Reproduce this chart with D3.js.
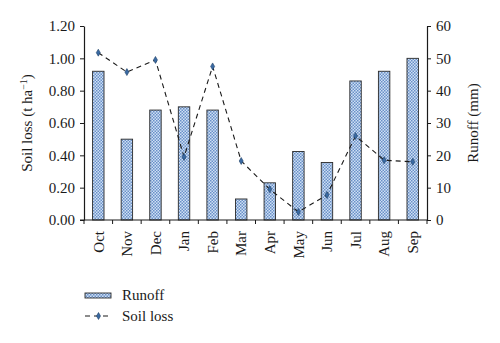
<!DOCTYPE html>
<html>
<head>
<meta charset="utf-8">
<script src="https://cdn.jsdelivr.net/npm/d3@7"></script>
<style>
  html, body { margin: 0; padding: 0; background: #fff; }
  svg { display: block; }
  text { font-family: "Liberation Serif", "Times New Roman", serif; fill: #1a1a1a; }
</style>
</head>
<body>
<svg id="chart" width="500" height="343"></svg>
<script>
const months = ["Oct","Nov","Dec","Jan","Feb","Mar","Apr","May","Jun","Jul","Aug","Sep"];
const runoff = [46, 25, 34, 35, 34, 6.5, 11.5, 21.2, 17.8, 43, 46, 50];
const soilLoss = [1.035, 0.915, 0.99, 0.39, 0.95, 0.365, 0.19, 0.05, 0.155, 0.52, 0.37, 0.36];
const leftTicks = [0, 0.2, 0.4, 0.6, 0.8, 1.0, 1.2];
const rightTicks = [0, 10, 20, 30, 40, 50, 60];

const FS = 15;
const svg = d3.select("#chart");
const m = { left: 84, right: 427, top: 26, bottom: 220 };

const defs = svg.append("defs");
const pat = defs.append("pattern")
  .attr("id", "dots").attr("patternUnits", "userSpaceOnUse")
  .attr("width", 3).attr("height", 3);
pat.append("rect").attr("width", 3).attr("height", 3).attr("fill", "#cfe0f5");
pat.append("rect").attr("x", 0).attr("y", 0).attr("width", 1.5).attr("height", 1.5).attr("fill", "#6a90c8");
pat.append("rect").attr("x", 1.5).attr("y", 1.5).attr("width", 1.5).attr("height", 1.5).attr("fill", "#6a90c8");

const x = d3.scaleBand().domain(months).range([m.left, m.right]).paddingInner(0).paddingOuter(0);
const yL = d3.scaleLinear().domain([0, 1.2]).range([m.bottom, m.top]);
const yR = d3.scaleLinear().domain([0, 60]).range([m.bottom, m.top]);

// bars
const bw = x.bandwidth() * 0.4;
svg.append("g").selectAll("rect").data(months).join("rect")
  .attr("x", d => x(d) + x.bandwidth() / 2 - bw / 2)
  .attr("y", (d, i) => yR(runoff[i]))
  .attr("width", bw)
  .attr("height", (d, i) => yR(0) - yR(runoff[i]))
  .attr("fill", "url(#dots)")
  .attr("stroke", "#2a2a2a").attr("stroke-width", 0.9);

// axes
const axL = svg.append("g").attr("transform", `translate(${m.left},0)`)
  .call(d3.axisLeft(yL).tickValues(leftTicks).tickFormat(d3.format(".2f")).tickSize(4).tickSizeOuter(0));
const axR = svg.append("g").attr("transform", `translate(${m.right},0)`)
  .call(d3.axisRight(yR).tickValues(rightTicks).tickFormat(d3.format("d")).tickSize(4).tickSizeOuter(0));
const axB = svg.append("g").attr("transform", `translate(0,${m.bottom})`)
  .call(d3.axisBottom(x).tickSize(0).tickSizeOuter(0));

// x tick marks at band boundaries
const bounds = months.map(d => x(d)).concat([m.right]);
axB.append("g").selectAll("line").data(bounds).join("line")
  .attr("x1", d => d).attr("x2", d => d).attr("y1", 0).attr("y2", 4)
  .attr("stroke", "#1a1a1a");
axB.select(".domain").attr("d", `M${m.left - 4},0H${m.right}`);

[axL, axR, axB].forEach(a => {
  a.select(".domain").attr("stroke", "#1a1a1a").attr("stroke-width", 1.2);
  a.selectAll(".tick line").attr("stroke", "#1a1a1a");
  a.selectAll("text").attr("font-family", "Liberation Serif, serif").attr("font-size", FS).attr("fill", "#1a1a1a");
});
axL.selectAll("text").attr("x", -9);
axR.selectAll("text").attr("x", 9);
axB.selectAll(".tick text")
  .attr("transform", "rotate(-90)")
  .attr("text-anchor", "end")
  .attr("x", -11).attr("y", 0).attr("dy", "0.35em");

// line
const line = d3.line().x((d, i) => x(months[i]) + x.bandwidth() / 2).y(d => yL(d));
svg.append("path").datum(soilLoss)
  .attr("d", line).attr("fill", "none")
  .attr("stroke", "#1a1a1a").attr("stroke-width", 1.1).attr("stroke-dasharray", "5,4");
svg.append("g").selectAll("path").data(soilLoss).join("path")
  .attr("d", d3.symbol().type(d3.symbolDiamond).size(14))
  .attr("transform", (d, i) => `translate(${x(months[i]) + x.bandwidth() / 2},${yL(d)})`)
  .attr("fill", "#3a6aa3").attr("stroke", "#1f3f66").attr("stroke-width", 0.6);

// axis titles
const lt = svg.append("text").attr("transform", "translate(32,123) rotate(-90)")
  .attr("text-anchor", "middle").attr("font-size", FS);
lt.append("tspan").text("Soil loss (t ha");
lt.append("tspan").attr("dy", -5).attr("font-size", 10).text("−1");
lt.append("tspan").attr("dy", 5).text(")");
svg.append("text").attr("transform", "translate(478,123) rotate(-90)")
  .attr("text-anchor", "middle").attr("font-size", FS).text("Runoff (mm)");

// legend
const lg = svg.append("g");
lg.append("rect").attr("x", 85).attr("y", 293).attr("width", 26).attr("height", 5)
  .attr("fill", "url(#dots)").attr("stroke", "#2a2a2a").attr("stroke-width", 0.9);
lg.append("text").attr("x", 122).attr("y", 300).attr("font-size", FS).text("Runoff");
lg.append("line").attr("x1", 85).attr("x2", 112).attr("y1", 316).attr("y2", 316)
  .attr("stroke", "#1a1a1a").attr("stroke-width", 1.1).attr("stroke-dasharray", "5,4");
lg.append("path").attr("d", d3.symbol().type(d3.symbolDiamond).size(14))
  .attr("transform", "translate(98.5,316)").attr("fill", "#3a6aa3").attr("stroke", "#1f3f66").attr("stroke-width", 0.6);
lg.append("text").attr("x", 122).attr("y", 321).attr("font-size", FS).text("Soil loss");
</script>
</body>
</html>
